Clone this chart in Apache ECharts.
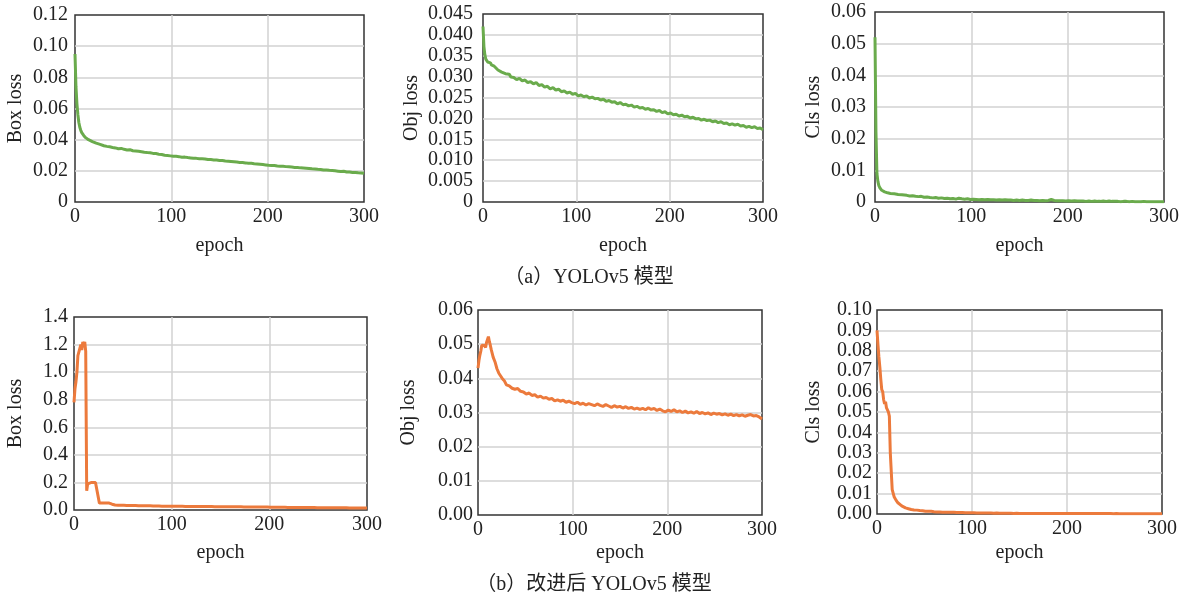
<!DOCTYPE html>
<html>
<head>
<meta charset="utf-8">
<script src="https://cdn.jsdelivr.net/npm/echarts@6/dist/echarts.min.js"></script>
<style>
html,body{margin:0;padding:0;background:#fff;}
#chart{width:1184px;height:596px;}
</style>
</head>
<body>
<div id="chart"></div>
<script>
// epoch positions shared by all series
const epochs = [0,1,2,3,4,5,6,7,8,9,10,11,12,13,14,
  16,18,20,22,24,26,28,30,
  33,36,39,42,45,48,51,54,57,60,
  63,66,69,72,75,78,81,84,87,90,
  93,96,99,102,105,108,111,114,117,120,
  123,126,129,132,135,138,141,144,147,150,
  153,156,159,162,165,168,171,174,177,180,
  183,186,189,192,195,198,201,204,207,210,
  213,216,219,222,225,228,231,234,237,240,
  243,246,249,252,255,258,261,264,267,270,
  273,276,279,282,285,288,291,294,297,300];

// (a) YOLOv5
const boxA = [0.095,0.074,0.063,0.056,0.051,0.048,0.046,0.0445,0.0435,0.0427,0.0420,0.0413,0.0408,0.0403,0.0400,
  0.0393,0.0388,0.0382,0.0378,0.0372,0.0370,0.0364,0.0361,
  0.0357,0.0354,0.0350,0.0347,0.0342,0.0344,0.0338,0.0334,0.0336,0.0329,
  0.0327,0.0325,0.0322,0.0319,0.0317,0.0316,0.0312,0.0311,0.0307,0.0305,
  0.0300,0.0298,0.0296,0.0294,0.0293,0.0291,0.0287,0.0288,0.0285,0.0283,
  0.0281,0.0280,0.0278,0.0277,0.0276,0.0273,0.0272,0.0270,0.0269,0.0267,
  0.0266,0.0263,0.0262,0.0260,0.0258,0.0256,0.0254,0.0253,0.0251,0.0248,
  0.0249,0.0246,0.0244,0.0242,0.0240,0.0238,0.0236,0.0235,0.0234,0.0231,
  0.0230,0.0229,0.0227,0.0226,0.0224,0.0222,0.0222,0.0219,0.0218,0.0217,
  0.0215,0.0213,0.0212,0.0210,0.0209,0.0206,0.0205,0.0203,0.0202,0.0200,
  0.0198,0.0196,0.0197,0.0193,0.0192,0.0190,0.0189,0.0187,0.0186,0.0184];

const objA = [0.0420,0.0372,0.0352,0.0342,0.0338,0.0335,0.0337,0.0331,0.0333,0.0328,0.0330,0.0327,0.0325,0.0326,0.0322,
  0.0316,0.0318,0.0311,0.0313,0.0307,0.0304,0.0306,0.0299,
  0.0298,0.0293,0.0296,0.0290,0.0292,0.0286,0.0288,0.0283,0.0286,0.0279,
  0.0281,0.0275,0.0277,0.0271,0.0274,0.0268,0.0270,0.0264,0.0266,0.0261,
  0.0263,0.0258,0.0260,0.0254,0.0256,0.0252,0.0254,0.0249,0.0251,0.0247,
  0.0248,0.0244,0.0246,0.0241,0.0243,0.0239,0.0240,0.0235,0.0238,0.0233,
  0.0234,0.0230,0.0232,0.0227,0.0229,0.0225,0.0226,0.0222,0.0224,0.0220,
  0.0221,0.0217,0.0219,0.0214,0.0216,0.0211,0.0213,0.0209,0.0210,0.0206,
  0.0208,0.0204,0.0205,0.0201,0.0203,0.0199,0.0200,0.0196,0.0198,0.0195,
  0.0196,0.0192,0.0194,0.0190,0.0192,0.0188,0.0189,0.0185,0.0187,0.0184,
  0.0186,0.0182,0.0183,0.0179,0.0181,0.0178,0.0180,0.0176,0.0177,0.0173];

const clsA = [0.052,0.022,0.009,0.0065,0.0052,0.0045,0.0040,0.0037,0.0035,0.0034,0.0032,0.0031,0.0030,0.0029,0.0028,
  0.0027,0.0025,0.0026,0.0031,0.0024,0.0022,0.0023,0.0020,
  0.0021,0.0019,0.0020,0.0018,0.0017,0.0018,0.0015,0.0016,0.0014,0.0013,
  0.0014,0.0012,0.0013,0.0011,0.0012,0.0010,0.0011,0.0009,0.0012,0.0010,
  0.0009,0.0010,0.0008,0.0009,0.0008,0.0007,0.0008,0.0007,0.0008,0.0007,
  0.0007,0.0006,0.0007,0.0006,0.0007,0.0006,0.0006,0.0005,0.0006,0.0005,
  0.0006,0.0005,0.0005,0.0006,0.0005,0.0005,0.0004,0.0005,0.0004,0.0005,
  0.0008,0.0005,0.0004,0.0004,0.0004,0.0003,0.0004,0.0003,0.0004,0.0003,
  0.0003,0.0003,0.0002,0.0003,0.0002,0.0003,0.0002,0.0002,0.0003,0.0002,
  0.0003,0.0002,0.0002,0.0002,0.0001,0.0002,0.0002,0.0001,0.0002,0.0001,
  0.0001,0.0001,0.0002,0.0001,0.0001,0.0001,0.0001,0.0001,0.0001,0.0001];

// (b) improved YOLOv5
const boxB = [0.78,0.88,0.93,1.00,1.12,1.13,1.11,1.20,1.16,1.22,1.18,1.22,1.15,0.14,0.19,
  0.20,0.20,0.20,0.20,0.19,0.05,0.05,0.05,
  0.05,0.05,0.042,0.036,0.035,0.034,0.034,0.033,0.033,0.032,
  0.032,0.031,0.031,0.030,0.030,0.030,0.029,0.029,0.029,0.028,
  0.028,0.028,0.028,0.027,0.027,0.027,0.027,0.026,0.026,0.026,
  0.026,0.026,0.025,0.025,0.025,0.025,0.025,0.024,0.024,0.024,
  0.024,0.024,0.023,0.023,0.023,0.023,0.023,0.022,0.022,0.022,
  0.022,0.022,0.021,0.021,0.021,0.021,0.020,0.020,0.020,0.020,
  0.020,0.020,0.019,0.019,0.019,0.019,0.019,0.018,0.018,0.018,
  0.018,0.018,0.017,0.017,0.017,0.017,0.017,0.016,0.016,0.016,
  0.016,0.016,0.016,0.015,0.015,0.015,0.015,0.015,0.014,0.014];

const objB = [0.0430,0.0452,0.0468,0.0480,0.0497,0.0500,0.0493,0.0496,0.0490,0.0505,0.0510,0.0522,0.0508,0.0497,0.0484,
  0.0462,0.0448,0.0428,0.0415,0.0411,0.0398,0.0392,0.0381,
  0.0378,0.0371,0.0368,0.0370,0.0362,0.0360,0.0354,0.0357,0.0350,0.0352,
  0.0345,0.0348,0.0342,0.0344,0.0339,0.0341,0.0334,0.0337,0.0333,0.0336,
  0.0330,0.0333,0.0329,0.0326,0.0330,0.0324,0.0327,0.0322,0.0326,0.0323,
  0.0320,0.0325,0.0321,0.0318,0.0323,0.0319,0.0315,0.0320,0.0316,0.0318,
  0.0313,0.0317,0.0312,0.0315,0.0310,0.0313,0.0309,0.0312,0.0308,0.0314,
  0.0309,0.0312,0.0306,0.0310,0.0305,0.0302,0.0307,0.0303,0.0308,0.0302,
  0.0305,0.0300,0.0304,0.0299,0.0302,0.0298,0.0303,0.0297,0.0300,0.0296,
  0.0299,0.0294,0.0298,0.0295,0.0297,0.0293,0.0296,0.0292,0.0295,0.0291,
  0.0294,0.0290,0.0293,0.0289,0.0292,0.0294,0.0290,0.0291,0.0287,0.0281];

const clsB = [0.090,0.083,0.077,0.072,0.066,0.061,0.060,0.056,0.054,0.055,0.052,0.051,0.050,0.048,0.030,
  0.0120,0.0085,0.0068,0.0055,0.0046,0.0040,0.0034,0.0030,
  0.0026,0.0022,0.0020,0.0019,0.0017,0.0016,0.0014,0.0013,0.0013,0.0011,
  0.0010,0.0010,0.0009,0.0009,0.0008,0.0008,0.0008,0.0007,0.0007,0.0007,
  0.0006,0.0006,0.0006,0.0006,0.0005,0.0005,0.0005,0.0005,0.0005,0.0005,
  0.0004,0.0005,0.0004,0.0004,0.0004,0.0004,0.0004,0.0003,0.0004,0.0003,
  0.0003,0.0003,0.0003,0.0003,0.0003,0.0003,0.0003,0.0003,0.0003,0.0003,
  0.0003,0.0002,0.0003,0.0002,0.0002,0.0002,0.0002,0.0002,0.0002,0.0002,
  0.0002,0.0002,0.0002,0.0002,0.0002,0.0002,0.0002,0.0002,0.0002,0.0002,
  0.0002,0.0002,0.0001,0.0002,0.0001,0.0001,0.0001,0.0001,0.0001,0.0001,
  0.0001,0.0001,0.0001,0.0001,0.0001,0.0001,0.0001,0.0001,0.0001,0.0001];

// tick labels
const xTicks = ['0','100','200','300'];
const yTicksBoxA = ['0','0.02','0.04','0.06','0.08','0.10','0.12'];
const yTicksObjA = ['0','0.005','0.010','0.015','0.020','0.025','0.030','0.035','0.040','0.045'];
const yTicksClsA = ['0','0.01','0.02','0.03','0.04','0.05','0.06'];
const yTicksBoxB = ['0.0','0.2','0.4','0.6','0.8','1.0','1.2','1.4'];
const yTicksObjB = ['0.00','0.01','0.02','0.03','0.04','0.05','0.06'];
const yTicksClsB = ['0.00','0.01','0.02','0.03','0.04','0.05','0.06','0.07','0.08','0.09','0.10'];

const yNames = ['Box loss','Obj loss','Cls loss','Box loss','Obj loss','Cls loss'];
const captionA = '（a）YOLOv5 模型';
const captionB = '（b）改进后 YOLOv5 模型';

const GREEN = '#6aab4c';
const ORANGE = '#ec7a3c';
const FONT = "'Liberation Serif','Times New Roman',serif";
const FS = 20;

const panels = [
  {grid:{left:75,top:15,width:289,height:187}, vals:boxA, ticks:yTicksBoxA, max:0.12, iv:0.02, color:GREEN, gap:49, ym:7, xg:34},
  {grid:{left:483,top:14,width:280,height:188}, vals:objA, ticks:yTicksObjA, max:0.045, iv:0.005, color:GREEN, gap:61, ym:10, xg:34},
  {grid:{left:875,top:12,width:289,height:190}, vals:clsA, ticks:yTicksClsA, max:0.06, iv:0.01, color:GREEN, gap:51, ym:9, xg:34},
  {grid:{left:74,top:317,width:293,height:193}, vals:boxB, ticks:yTicksBoxB, max:1.4, iv:0.2, color:ORANGE, gap:48, ym:6, xg:33},
  {grid:{left:478,top:310,width:284,height:205}, vals:objB, ticks:yTicksObjB, max:0.06, iv:0.01, color:ORANGE, gap:59, ym:5, xg:28},
  {grid:{left:877,top:310,width:285,height:204}, vals:clsB, ticks:yTicksClsB, max:0.1, iv:0.01, color:ORANGE, gap:53, ym:5, xg:29}
];

const grids=[], xAxes=[], yAxes=[], series=[];
panels.forEach((p,i)=>{
  grids.push(Object.assign({show:true, borderColor:'#333', borderWidth:1.5, backgroundColor:'#fff', containLabel:false}, p.grid));
  xAxes.push({
    type:'value', gridIndex:i, min:0, max:300, interval:100,
    name:'epoch', nameLocation:'middle', nameGap:p.xg,
    nameTextStyle:{fontFamily:FONT, fontSize:FS, color:'#222'},
    axisLine:{show:false}, axisTick:{show:false},
    axisLabel:{fontFamily:FONT, fontSize:FS, color:'#222', margin:5,
      formatter:(v)=>xTicks[Math.round(v/100)]},
    splitLine:{show:true, showMinLine:false, showMaxLine:false, lineStyle:{color:'#d2d2d2', width:1.5}}
  });
  yAxes.push({
    type:'value', gridIndex:i, min:0, max:p.max, interval:p.iv,
    name:yNames[i], nameLocation:'middle', nameGap:p.gap,
    nameTextStyle:{fontFamily:FONT, fontSize:FS, color:'#222'},
    axisLine:{show:false}, axisTick:{show:false},
    axisLabel:{fontFamily:FONT, fontSize:FS, color:'#222', margin:p.ym,
      formatter:(v)=>p.ticks[Math.round(v/p.iv)]},
    splitLine:{show:true, showMinLine:false, showMaxLine:false, lineStyle:{color:'#d2d2d2', width:1.5}}
  });
  series.push({
    type:'line', xAxisIndex:i, yAxisIndex:i, showSymbol:false, symbol:'none',
    data:epochs.map((e,k)=>[e,p.vals[k]]),
    lineStyle:{color:p.color, width:3}, itemStyle:{color:p.color},
    clip:true, animation:false, z:3
  });
});

const chart = echarts.init(document.getElementById('chart'), null, {renderer:'canvas'});
chart.setOption({
  backgroundColor:'#fff',
  animation:false,
  grid:grids, xAxis:xAxes, yAxis:yAxes, series:series,
  graphic:[
    {type:'text', x:589, y:278, style:{text:captionA, align:'center', verticalAlign:'middle', fontFamily:"'Liberation Serif','Noto Sans CJK SC',serif", fontSize:20, fill:'#222'}},
    {type:'text', x:594, y:585, style:{text:captionB, align:'center', verticalAlign:'middle', fontFamily:"'Liberation Serif','Noto Sans CJK SC',serif", fontSize:20, fill:'#222'}}
  ]
});
</script>
</body>
</html>
